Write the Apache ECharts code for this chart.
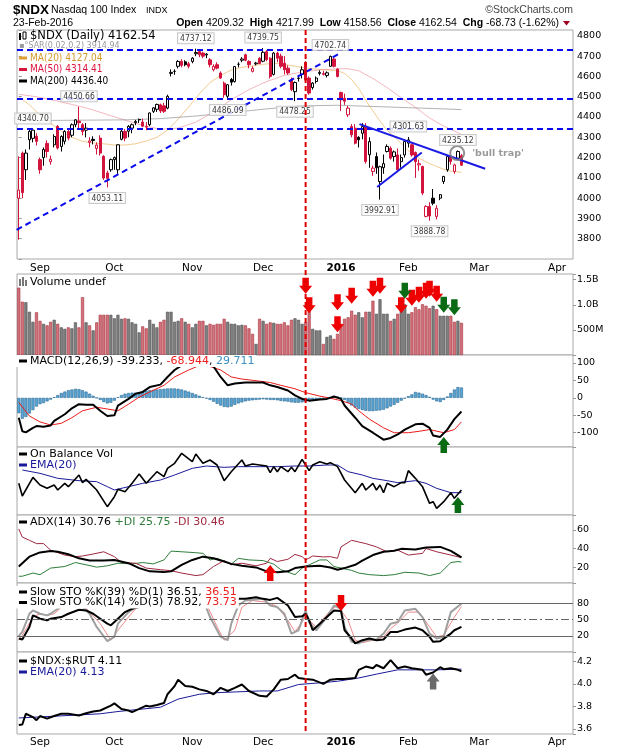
<!DOCTYPE html>
<html>
<head>
<meta charset="utf-8">
<title>$NDX Nasdaq 100 Index</title>
<script src="https://cdn.jsdelivr.net/npm/echarts@6/dist/echarts.min.js"></script>
<style>
  html, body { margin: 0; padding: 0; background: #fff; }
  #chart { width: 620px; height: 750px; }
</style>
</head>
<body>
<div id="chart"></div>
<script>
// ---------------- values ----------------
var slotCount = 157          // trading days on the axis (Aug 24 2015 .. early Apr 2016)
var monthTicks = [[6, 'Sep'], [27, 'Oct'], [49, 'Nov'], [69, 'Dec'], [91, '2016'], [110, 'Feb'], [130, 'Mar'], [152, 'Apr']]

// daily candles: [open, close, low, high]
var ohlc = [
  [4000, 4040, 3795, 4206], [4222, 4027, 4000, 4230], [4140, 4222, 4090, 4240], [4288, 4329, 4240, 4340], [4295, 4335, 4275, 4340.70],
  [4305, 4280, 4260, 4320], [4190, 4140, 4120, 4200], [4200, 4240, 4160, 4250], [4270, 4230, 4200, 4285], [4180, 4192, 4165, 4210],
  [4263, 4304, 4250, 4315], [4354, 4247, 4240, 4360], [4255, 4304, 4230, 4310], [4280, 4329, 4265, 4335], [4329, 4296, 4285, 4340],
  [4310, 4362, 4300, 4368], [4362, 4386, 4350, 4390], [4380, 4372, 4340, 4450.66], [4362, 4329, 4310, 4370], [4335, 4345, 4300, 4370],
  [4275, 4282, 4250, 4300], [4290, 4284, 4265, 4305], [4245, 4262, 4215, 4275], [4296, 4222, 4210, 4310], [4206, 4099, 4090, 4212],
  [4124, 4098, 4053.11, 4135], [4140, 4190, 4130, 4195], [4190, 4200, 4140, 4205], [4140, 4263, 4120, 4265], [4290, 4330, 4285, 4340],
  [4329, 4296, 4280, 4340], [4330, 4354, 4300, 4360], [4345, 4362, 4320, 4368], [4372, 4378, 4360, 4385], [4388, 4386, 4370, 4392],
  [4375, 4355, 4350, 4392], [4350, 4354, 4335, 4375], [4362, 4420, 4355, 4422], [4428, 4445, 4420, 4448], [4438, 4462, 4425, 4466],
  [4460, 4430, 4420, 4466], [4455, 4428, 4420, 4470], [4444, 4502, 4438, 4510], [4615, 4620, 4600, 4635], [4625, 4625, 4608, 4635],
  [4650, 4674, 4640, 4680], [4674, 4655, 4645, 4685], [4672, 4658, 4650, 4680], [4662, 4650, 4640, 4672], [4674, 4690, 4665, 4695],
  [4712, 4718, 4700, 4737.12], [4723, 4707, 4695, 4730], [4715, 4700, 4690, 4722], [4706, 4710, 4690, 4715], [4682, 4658, 4645, 4690],
  [4633, 4650, 4625, 4660], [4658, 4641, 4635, 4670], [4617, 4592, 4588, 4625], [4567, 4510, 4495, 4575], [4502, 4559, 4486.09, 4562],
  [4585, 4572, 4555, 4592], [4575, 4649, 4570, 4652], [4660, 4660, 4645, 4670], [4680, 4686, 4670, 4695], [4707, 4680, 4675, 4712],
  [4674, 4658, 4640, 4680], [4625, 4640, 4620, 4650], [4662, 4666, 4655, 4672], [4690, 4664, 4660, 4695], [4675, 4719, 4670, 4739.75],
  [4722, 4683, 4675, 4730], [4690, 4600, 4590, 4695], [4610, 4715, 4605, 4720], [4715, 4690, 4670, 4722], [4700, 4650, 4640, 4712],
  [4665, 4633, 4610, 4700], [4641, 4617, 4608, 4655], [4584, 4535, 4528, 4595], [4525, 4570, 4478.25, 4575], [4590, 4592, 4575, 4605],
  [4610, 4633, 4590, 4650], [4670, 4582, 4575, 4675], [4592, 4518, 4510, 4600], [4545, 4567, 4535, 4572], [4575, 4592, 4565, 4600],
  [4615, 4620, 4605, 4630], [4610, 4615, 4605, 4628], [4605, 4618, 4595, 4625], [4650, 4699, 4648, 4702.74], [4686, 4650, 4645, 4690],
  [4636, 4600, 4595, 4640], [4521, 4485, 4430, 4525], [4492, 4478, 4460, 4515], [4411, 4444, 4400, 4455], [4353, 4312, 4300, 4365],
  [4345, 4271, 4265, 4365], [4300, 4288, 4250, 4305], [4320, 4353, 4290, 4370], [4353, 4181, 4170, 4370], [4214, 4279, 4150, 4300],
  [4132, 4148, 4110, 4160], [4205, 4150, 4120, 4225], [4082, 4155, 3992.91, 4160], [4150, 4170, 4120, 4215], [4230, 4255, 4225, 4265],
  [4246, 4197, 4190, 4255], [4205, 4228, 4180, 4235], [4213, 4140, 4130, 4245], [4180, 4200, 4150, 4215], [4213, 4279, 4200, 4282],
  [4271, 4287, 4250, 4301.63], [4263, 4213, 4205, 4270], [4225, 4180, 4100, 4230], [4164, 4170, 4135, 4190], [4156, 4025, 4015, 4160],
  [3910, 3959, 3905, 3965], [3959, 3912, 3888.78, 3980], [4000, 3975, 3965, 4045], [3910, 3950, 3895, 3965], [4000, 4017, 3990, 4020],
  [4082, 4107, 4070, 4110], [4140, 4205, 4130, 4208], [4202, 4181, 4165, 4210], [4131, 4164, 4120, 4170], [4197, 4230, 4195, 4235.12],
  [4209.32, 4162.54, 4158.56, 4217.99]
]

// daily volume, billions of shares
var volume = [
  1.34, 1.06, 1.05, 0.86, 0.66, 0.85, 0.68, 0.62, 0.59, 0.66,
  0.70, 0.62, 0.55, 0.52, 0.55, 0.53, 0.65, 0.55, 1.15, 0.65,
  0.59, 0.49, 0.65, 0.80, 0.80, 0.80, 0.80, 0.73, 0.80, 0.72,
  0.73, 0.72, 0.65, 0.62, 0.45, 0.57, 0.53, 0.70, 0.62, 0.55,
  0.66, 0.70, 0.86, 0.86, 0.66, 0.68, 0.73, 0.66, 0.62, 0.55,
  0.62, 0.68, 0.68, 0.59, 0.62, 0.60, 0.62, 0.62, 0.72, 0.66,
  0.62, 0.62, 0.59, 0.60, 0.59, 0.53, 0.42, 0.22, 0.72, 0.68,
  0.62, 0.65, 0.64, 0.62, 0.62, 0.65, 0.59, 0.70, 0.73, 0.70,
  0.62, 0.65, 1.10, 0.52, 0.49, 0.49, 0.22, 0.36, 0.39, 0.32,
  0.42, 0.62, 0.72, 0.75, 0.88, 0.80, 0.85, 0.75, 0.86, 0.86,
  1.08, 0.82, 1.11, 0.82, 0.82, 0.68, 0.72, 0.82, 0.88, 1.01,
  0.82, 0.85, 0.95, 0.91, 1.01, 0.98, 0.93, 0.98, 0.91, 0.78,
  0.78, 0.78, 0.78, 0.66, 0.68, 0.64
]

// moving averages on the price panel, [day, value]
var ma20 = [[0, 4500], [3, 4460], [6, 4410], [9, 4370], [12, 4330], [15, 4300], [18, 4280], [21, 4272], [24, 4268], [27, 4262],
  [30, 4262], [33, 4268], [36, 4282], [39, 4300], [42, 4335], [45, 4390], [48, 4450], [51, 4515], [54, 4570], [57, 4605],
  [60, 4632], [63, 4645], [66, 4652], [69, 4660], [72, 4665], [75, 4660], [78, 4650], [81, 4642], [84, 4636], [87, 4632],
  [90, 4628], [92, 4615], [94, 4585], [96, 4540], [99, 4455], [102, 4380], [104, 4335], [107, 4287], [110, 4235], [113, 4197],
  [116, 4170], [118, 4156], [121, 4136], [125, 4127.04]]
var ma50 = [[0, 4512], [5, 4500], [10, 4482], [15, 4462], [20, 4440], [25, 4412], [30, 4385], [35, 4358], [40, 4340], [45, 4345],
  [50, 4375], [55, 4425], [60, 4485], [65, 4535], [70, 4575], [75, 4605], [80, 4622], [85, 4632], [90, 4638], [93, 4638],
  [96, 4628], [100, 4590], [104, 4545], [108, 4495], [112, 4448], [116, 4395], [120, 4355], [125, 4314.41]]
var ma200 = [[0, 4382], [15, 4384], [30, 4386], [40, 4392], [50, 4405], [60, 4422], [70, 4440], [80, 4455], [90, 4458],
  [100, 4452], [110, 4446], [120, 4440], [125, 4436.40]]

// MACD(12,26,9)
var macdLine = [[0, -57], [1, -96], [2, -99], [4, -86], [5, -81], [7, -83], [9, -79], [10, -66], [13, -47], [15, -30], [17, -18],
  [19, -20], [21, -20], [23, -37], [25, -52], [27, -50], [28, -22], [31, -3], [33, 12], [35, 17], [37, 31], [40, 38], [42, 60],
  [44, 80], [46, 93], [49, 108], [52, 112], [55, 90], [57, 60], [59, 36], [61, 41], [64, 44], [69, 44], [71, 36], [73, 31],
  [76, 21], [78, 7], [80, -3], [82, -8], [85, -5], [87, -3], [89, 4], [91, -3], [92, -22], [95, -57], [97, -81], [100, -100],
  [103, -120], [105, -115], [107, -105], [109, -91], [112, -76], [114, -74], [116, -86], [117, -108], [119, -112], [121, -91],
  [123, -61], [125, -39.233]]
var macdSignal = [[0, -13], [3, -52], [6, -69], [9, -78], [12, -73], [15, -57], [18, -37], [22, -27], [25, -32], [28, -37],
  [31, -18], [34, 2], [37, 17], [41, 36], [44, 60], [48, 80], [51, 93], [54, 90], [57, 80], [60, 60], [63, 54], [68, 48],
  [71, 44], [74, 36], [78, 26], [81, 15], [85, 5], [88, -1], [91, -8], [94, -18], [96, -37], [99, -61], [103, -86], [106, -100],
  [110, -100], [113, -96], [116, -91], [120, -100], [123, -91], [125, -68.944]]
var macdHist = [
  -44, -60, -55, -45, -35, -25, -18, -15, -10, -5,
  2, 8, 14, 18, 22, 24, 26, 25, 22, 18,
  12, 6, 0, -6, -12, -16, -14, -8, 2, 8,
  12, 14, 15, 15, 16, 18, 20, 22, 23, 24,
  25, 26, 27, 27, 27, 26, 24, 21, 18, 14,
  10, 6, 2, -2, -6, -11, -17, -22, -26, -27,
  -25, -20, -16, -13, -10, -8, -7, -6, -5, -4,
  -5, -6, -6, -7, -9, -10, -11, -13, -14, -14,
  -13, -11, -9, -7, -5, -4, -2, 0, 2, 4,
  4, 0, -6, -14, -22, -28, -32, -35, -37, -38,
  -38, -37, -36, -34, -30, -25, -20, -14, -8, -2,
  5, 10, 17, 15, 12, 8, 3, -5, -10, -12,
  -6, 4, 14, 24, 31, 29.711
]

// On Balance Volume (billions, relative) and its EMA(20)
var obv = [[0, 2.0], [1, -1.8], [4, 3.8], [6, 1.5], [8, 0.5], [10, 1.5], [11, 0], [13, 2.0], [14, 1.0], [17, 4.5], [18, 2.2],
  [19, 3.2], [22, 0], [25, -5.0], [27, -2.0], [28, 0.2], [30, -0.5], [32, 2.0], [34, 4.8], [36, 2.0], [39, 5.5], [41, 4.0],
  [42, 6.5], [44, 8.0], [46, 11.0], [49, 8.5], [50, 10.8], [52, 8.0], [54, 9.0], [56, 7.5], [58, 2.8], [60, 5.5], [63, 9.0],
  [64, 7.2], [66, 7.8], [68, 7.5], [70, 7.2], [71, 5.2], [72, 7.0], [73, 5.5], [74, 7.0], [76, 5.5], [77, 6.8], [78, 5.5],
  [80, 9.2], [81, 7.5], [82, 5.8], [83, 7.5], [85, 8.5], [87, 7.8], [88, 8.2], [90, 7.0], [92, 3.0], [95, -0.8], [97, 2.0],
  [98, 0], [100, 2.0], [101, 0], [102, 1.5], [103, -0.8], [104, 2.0], [106, 1.0], [108, 2.2], [109, 2.2], [110, 5.8],
  [112, 3.5], [114, 1.0], [116, -4.0], [117, -3.5], [118, -5.5], [120, -3.5], [122, -0.8], [123, -2.5], [125, 0]]
var obvEma = [[1, 6.0], [6, 5.0], [11, 3.5], [17, 2.8], [22, 2.5], [25, 1.0], [27, 0], [31, 1.0], [35, 2.0], [40, 3.0],
  [44, 4.5], [49, 6.5], [53, 7.2], [58, 6.8], [62, 7.0], [68, 7.0], [73, 7.0], [78, 7.2], [82, 7.2], [87, 7.5], [90, 7.5],
  [93, 5.5], [97, 4.5], [100, 3.5], [104, 2.8], [107, 2.2], [112, 2.8], [115, 2.0], [118, 0.5], [122, -0.8], [125, -0.8]]

// ADX(14), +DI, -DI
var adx = [[0, 21], [3, 31.5], [6, 36], [9, 37.4], [11, 36.7], [14, 34], [17, 29.7], [20, 27.3], [24, 27.3], [27, 28],
  [31, 24.5], [34, 19.3], [37, 15.8], [41, 15], [43, 15.8], [46, 22.8], [49, 28], [52, 31.5], [55, 29.7], [58, 26.3],
  [60, 23.8], [63, 21.7], [67, 20], [70, 15.8], [73, 14.8], [76, 15.8], [78, 19.3], [81, 21], [85, 21.7], [88, 20], [90, 17.6],
  [92, 19.3], [95, 22.8], [97, 27.3], [100, 33.2], [103, 36.7], [106, 37.7], [108, 39.8], [112, 39.1], [115, 41.2], [119, 41.9],
  [122, 37.7], [125, 30.76]]
var plusDI = [[0, 10.6], [1, 10.6], [4, 14], [6, 12.3], [9, 19.3], [13, 21], [16, 25.2], [19, 22.8], [22, 20.3], [25, 21.7],
  [28, 24.5], [32, 23.8], [35, 25.2], [38, 23.8], [41, 28], [43, 37.4], [46, 36.7], [50, 35.7], [52, 35], [54, 28], [56, 29.7],
  [60, 23.5], [62, 29.7], [65, 28], [69, 27.3], [72, 23.5], [74, 17.6], [78, 12.3], [80, 19.3], [82, 22.8], [85, 28], [87, 28],
  [89, 21], [91, 19.3], [94, 16.9], [96, 14], [99, 12.3], [103, 11.3], [106, 12.3], [109, 14.8], [113, 14], [116, 11.3],
  [119, 14], [122, 25.2], [124, 26.3], [125, 25.75]]
var minusDI = [[0, 61], [1, 52.4], [3, 48.9], [5, 45.4], [7, 45.4], [9, 38.4], [13, 33.2], [16, 31.5], [18, 32.2], [21, 34.3],
  [24, 36.7], [27, 31.5], [29, 25.2], [33, 24.5], [36, 19.3], [40, 17.6], [43, 16.5], [46, 14], [50, 11.3], [52, 12.3],
  [55, 21], [58, 27.3], [60, 22.8], [63, 24.5], [67, 21.7], [70, 24.5], [71, 29.7], [73, 26.3], [76, 28.7], [78, 33.9],
  [80, 31.5], [81, 28], [83, 32.2], [86, 31.2], [88, 31.5], [90, 29.7], [91, 41.9], [94, 48.9], [96, 47.1], [98, 45.4],
  [101, 41.9], [104, 36.7], [107, 38.4], [110, 33.2], [114, 35], [115, 40.2], [118, 36.7], [122, 33.2], [125, 30.46]]

// Slow stochastics
var stoK39 = [[0, 15.2], [1, 13.3], [3, 36.4], [4, 57.6], [6, 51.5], [8, 48.5], [9, 51.5], [12, 54.5], [14, 60.6], [17, 67.9],
  [19, 66.7], [21, 60.6], [23, 51.5], [25, 42.4], [26, 39.4], [28, 51.5], [30, 63.6], [32, 69.7], [34, 72.7], [37, 80], [40, 86],
  [44, 92], [48, 96], [52, 87.9], [54, 81.8], [57, 72.7], [59, 75.8], [62, 87.9], [64, 87.9], [67, 90.9], [69, 87.9], [71, 86],
  [73, 89.7], [76, 75.8], [78, 54.5], [80, 55.8], [81, 60.6], [82, 48.5], [83, 30.3], [85, 42.4], [87, 54.5], [89, 66.7],
  [91, 65.5], [92, 30.3], [94, 15.2], [95, 6.1], [97, 12.1], [99, 15.2], [101, 12.1], [103, 13.3], [105, 27.3], [107, 27.3],
  [109, 31.5], [112, 35.2], [114, 30.3], [116, 18.2], [117, 9.1], [119, 10.3], [122, 24.2], [123, 30.3], [125, 36.51]]
var stoK14 = [[0, 19.4], [1, 27.3], [3, 60.6], [4, 66.7], [6, 60.6], [8, 57.6], [9, 60.6], [11, 69.7], [13, 85], [15, 88],
  [17, 80], [19, 66.7], [20, 60.6], [22, 36.4], [25, 10.3], [27, 18.2], [28, 42.4], [31, 63.6], [33, 72.7], [35, 85], [38, 92],
  [42, 95], [46, 93], [50, 90], [52, 87.9], [54, 54.5], [57, 18.2], [59, 12.1], [60, 42.4], [62, 75.8], [64, 84.8], [69, 87.9],
  [71, 75.8], [73, 72.7], [75, 60.6], [77, 24.2], [79, 30.3], [81, 66.7], [82, 45], [84, 30.3], [87, 54.5], [89, 75.8],
  [91, 69.7], [92, 36.4], [94, 9.1], [96, 6.1], [98, 12.1], [101, 13.3], [103, 24.2], [105, 42.4], [107, 45.5], [109, 66.7],
  [112, 69.7], [114, 54.5], [116, 24.2], [118, 15.2], [120, 18.2], [122, 63.6], [125, 78.92]]
var stoD3 = [[0, 12], [1, 21], [4, 54.5], [6, 60.6], [8, 57.6], [10, 60.6], [12, 72], [14, 80], [17, 85], [20, 63.6], [23, 42.4],
  [26, 12.1], [28, 30.3], [31, 54.5], [33, 69.7], [36, 80], [40, 90], [45, 94], [50, 92], [53, 78.8], [56, 36.4], [58, 12.1],
  [61, 30.3], [63, 72.7], [66, 84.8], [70, 81.8], [73, 73.9], [76, 48.5], [78, 27.3], [81, 54.5], [84, 36.4], [88, 66.7],
  [90, 75.8], [93, 48.5], [95, 12.1], [97, 7.3], [100, 12.1], [103, 18.2], [105, 33.3], [107, 43.6], [110, 63.6], [113, 63.6],
  [116, 36.4], [118, 18.2], [120, 21.2], [123, 54.5], [125, 73.73]]
var stoLevels = [80, 50, 20]

// $NDX:$RUT ratio and EMA(20)
var ratio = [[0, 3.635], [1, 3.64], [2, 3.735], [4, 3.706], [5, 3.678], [6, 3.715], [8, 3.692], [10, 3.715], [12, 3.735],
  [14, 3.735], [17, 3.72], [19, 3.74], [21, 3.755], [23, 3.764], [26, 3.807], [27, 3.827], [29, 3.778], [31, 3.764], [32, 3.75],
  [34, 3.778], [36, 3.807], [37, 3.80], [39, 3.813], [41, 3.83], [42, 3.908], [44, 3.98], [45, 4.037], [47, 3.98], [49, 3.974],
  [51, 3.951], [53, 3.937], [55, 3.908], [57, 3.965], [59, 3.937], [61, 3.965], [63, 3.994], [65, 3.937], [68, 3.894],
  [70, 3.888], [72, 3.951], [74, 4.037], [76, 4.043], [78, 4.081], [79, 4.052], [81, 4.043], [83, 4.037], [86, 4.0], [88, 4.037],
  [90, 4.043], [92, 4.043], [95, 4.052], [96, 4.124], [98, 4.153], [100, 4.138], [101, 4.167], [103, 4.138], [105, 4.21],
  [107, 4.138], [109, 4.153], [111, 4.138], [114, 4.124], [115, 4.081], [117, 4.101], [119, 4.147], [120, 4.13], [122, 4.138],
  [124, 4.124], [125, 4.11]]
var ratioEma = [[0, 3.698], [11, 3.715], [23, 3.735], [28, 3.755], [40, 3.793], [45, 3.865], [51, 3.908], [56, 3.922],
  [68, 3.937], [73, 3.937], [79, 3.994], [85, 4.009], [90, 4.023], [96, 4.052], [101, 4.086], [107, 4.124], [112, 4.124],
  [118, 4.124], [125, 4.13]]

// annotations drawn on the chart
var priceLevels = [4730, 4492, 4340]
var trendDashed = [[-0.6, 3844], [90.4, 4711]]
var wedgeUpper = [[96.2, 4365], [131.7, 4145]]
var wedgeLower = [[101.2, 4055], [113.8, 4225]]
var bullTrap = [123.8, 4222]
var eventDay = 81
var priceLabels = [[4, 4340.70, 'top'], [17, 4450.66, 'top'], [25, 4053.11, 'bottom'], [50, 4737.12, 'top'],
  [59, 4486.09, 'bottom'], [69, 4739.75, 'top'], [78, 4478.25, 'bottom'], [88, 4702.74, 'top'], [110, 4301.63, 'top'],
  [102, 3992.91, 'bottom'], [116, 3888.78, 'bottom'], [124, 4235.12, 'top']]
var volArrows = [[81, 1.38, 'r'], [82, 0.99, 'r'], [90, 1.05, 'r'], [90, 0.61, 'r'], [94, 1.18, 'r'], [100, 1.32, 'r'],
  [102, 1.38, 'r'], [108, 0.99, 'r'], [111, 1.14, 'r'], [113, 1.2, 'r'], [115, 1.28, 'r'], [116, 1.32, 'r'], [118, 1.22, 'r'],
  [109, 1.28, 'g'], [120, 1.0, 'g'], [123, 0.95, 'g']]

// ---------------- chart ----------------
var RED = '#d3143c'
var FONT = 'DejaVu Sans'
var COND = 'DejaVu Sans Condensed'
var ARIAL = 'Liberation Sans'
var ARROW_DOWN = 'path://M4,0 L12,0 L12,9 L16,9 L8,18 L0,9 L4,9 Z'
var ARROW_UP = 'path://M8,0 L16,9 L12,9 L12,18 L4,18 L4,9 L0,9 Z'
var arrowColors = {r: '#ee0000', g: '#0b6b14', k: '#6a6a6a'}

var panels = [
  {top: 30, height: 229, min: 3700, max: 4829},     // price
  {top: 274, height: 81, min: 0, max: 1.612},       // volume
  {top: 355, height: 92, min: -141, max: 123},      // MACD
  {top: 447, height: 68, min: -7.5, max: 12.9},     // OBV
  {top: 515, height: 68, min: 3.4, max: 75.9},      // ADX
  {top: 583, height: 69, min: -9.6, max: 117},      // STO
  {top: 652, height: 82, min: 3.556, max: 4.282}    // ratio
]
var plotLeft = 17, plotRight = 47

var chart = echarts.init(document.getElementById('chart'), null, {renderer: 'canvas'})

var categories = []
for (var s = 0; s < slotCount; s++) categories.push(String(s))
var monthAt = {}
monthTicks.forEach(function (t) { monthAt[t[0]] = t[1] })

function isDown (i) {
  return i === 0 ? true : ohlc[i][1] < ohlc[i - 1][1]
}

var candleData = ohlc.map(function (d, i) {
  var edge = isDown(i) ? RED : '#000'
  var fill = d[1] > d[0] ? '#fff' : edge
  return {value: d, itemStyle: {color: fill, color0: fill, borderColor: edge, borderColor0: edge}}
})

var volumeData = volume.map(function (v, i) {
  var down = isDown(i)
  return {value: v, itemStyle: {color: down ? '#d2737b' : '#808080', borderColor: down ? '#a8303e' : '#4a4a4a', borderWidth: 0.6}}
})

function arrows (list, dir) {
  return {
    silent: true, animation: false, label: {show: false},
    data: list.map(function (a) {
      return {coord: [a[0], a[1]], symbol: dir === 'up' ? ARROW_UP : ARROW_DOWN, symbolSize: [13, 16],
        itemStyle: {color: arrowColors[a[2]]}}
    })
  }
}

function line (name, g, data, color, width, extra) {
  var o = {type: 'line', name: name, xAxisIndex: g, yAxisIndex: g, data: data, symbol: 'none', silent: true,
    animation: false, lineStyle: {color: color, width: width}, z: 3}
  for (var k in extra) o[k] = extra[k]
  return o
}

var grids = panels.map(function (p) {
  return {left: plotLeft, right: plotRight, top: p.top, height: p.height, show: true,
    borderColor: '#a8a8a8', borderWidth: 1, backgroundColor: '#fff', containLabel: false}
})

var xAxes = panels.map(function (p, g) {
  var showLabels = g === 0 || g === 6
  return {
    type: 'category', gridIndex: g, data: categories, boundaryGap: true,
    axisLine: {show: false}, axisTick: {show: false}, splitLine: {show: false},
    axisLabel: {
      show: showLabels, margin: g === 0 ? 4 : 3, fontFamily: FONT, fontSize: 10.5, color: '#000',
      interval: function (idx) { return monthAt[idx] !== undefined },
      formatter: function (val, idx) {
        var t = monthAt[idx] || ''
        return t === '2016' ? '{b|2016}' : t
      },
      rich: {b: {fontWeight: 'bold', fontFamily: FONT, fontSize: 10.5, color: '#000'}}
    }
  }
})
// hidden value axis for annotations that sit between days
xAxes.push({type: 'value', gridIndex: 0, min: -0.5, max: slotCount - 0.5, show: false})

var labelFormatters = [
  function (v) { return (v >= 3800 && v <= 4800 && v % 100 === 0) ? String(v) : '' },
  function (v) { return v === 0.5 ? '500M' : v === 1 ? '1.0B' : v === 1.5 ? '1.5B' : '' },
  function (v) { return (Math.abs(v) <= 100 && v % 50 === 0) ? String(v) : '' },
  function () { return '' },
  function (v) { return (v === 20 || v === 40 || v === 60) ? String(v) : '' },
  function () { return '' },
  function (v) {
    var k = Math.round(v * 5)
    return (Math.abs(v * 5 - k) < 1e-6 && v >= 3.6 && v <= 4.2) ? (k / 5).toFixed(1) : ''
  }
]
var yAxes = panels.map(function (p, g) {
  var ax = {
    type: 'value', gridIndex: g, position: 'right', min: p.min, max: p.max, scale: true,
    axisLine: {show: false}, splitLine: {show: false},
    axisTick: {show: g !== 3 && g !== 5, length: 3, lineStyle: {color: '#999'}},
    axisLabel: {show: g !== 3 && g !== 5, fontFamily: FONT, fontSize: 9.5, color: '#000', margin: 4,
      formatter: labelFormatters[g]}
  }
  if (g === 0) ax.interval = 100
  if (g === 1) ax.interval = 0.5
  if (g === 2) ax.splitNumber = 5
  if (g === 4) ax.splitNumber = 4
  if (g === 6) ax.splitNumber = 4
  return ax
})

var series = [
  // price panel
  line('MA(20)', 0, ma20, '#eba84a', 1, {lineStyle: {color: '#eba84a', width: 1, opacity: 0.6}, z: 1}),
  line('MA(50)', 0, ma50, '#e8707e', 1, {lineStyle: {color: '#e8707e', width: 1, opacity: 0.5}, z: 1}),
  line('MA(200)', 0, ma200, '#8a8a8a', 1, {lineStyle: {color: '#8a8a8a', width: 1, opacity: 0.65}, z: 1}),
  {
    type: 'candlestick', name: '$NDX', xAxisIndex: 0, yAxisIndex: 0, data: candleData, barWidth: '80%',
    silent: true, animation: false, z: 2, itemStyle: {borderWidth: 1}
  },
  {
    type: 'line', name: 'levels', xAxisIndex: 7, yAxisIndex: 0, data: [], silent: true, z: 5,
    markLine: {silent: true, symbol: 'none', animation: false, label: {show: false},
      lineStyle: {color: '#0a0aee', width: 2, type: [6, 4]},
      data: priceLevels.map(function (v) { return {yAxis: v} })}
  },
  line('trend', 7, trendDashed, '#0a0aee', 2, {yAxisIndex: 0, lineStyle: {color: '#0a0aee', width: 2, type: [6, 4]}, z: 5}),
  line('wedge upper', 7, wedgeUpper, '#1a1ae6', 2, {yAxisIndex: 0, z: 5}),
  line('wedge lower', 7, wedgeLower, '#1a1ae6', 2, {yAxisIndex: 0, z: 5}),
  {
    type: 'scatter', name: 'bull trap', xAxisIndex: 7, yAxisIndex: 0, data: [bullTrap], symbol: 'circle', symbolSize: 14,
    silent: true, animation: false, z: 6,
    itemStyle: {color: 'rgba(0,0,0,0)', borderColor: '#777', borderWidth: 2},
    label: {show: true, position: 'right', distance: 7, formatter: "'bull trap'", color: '#7f7f7f',
      fontFamily: FONT, fontWeight: 'bold', fontSize: 9.5}
  },
  {
    type: 'scatter', name: 'price labels', xAxisIndex: 0, yAxisIndex: 0, symbolSize: 1, silent: true, animation: false, z: 7,
    itemStyle: {color: 'rgba(0,0,0,0)'},
    data: priceLabels.map(function (p) { return {value: [p[0], p[1]], label: {position: p[2]}} }),
    label: {show: true, distance: 5, formatter: function (p) { return p.value[1].toFixed(2) },
      backgroundColor: '#fff', borderColor: '#bdbdbd', borderWidth: 1, padding: [1, 2, 0, 2],
      fontFamily: COND, fontSize: 8.5, color: '#000'}
  },
  // volume
  {
    type: 'bar', name: 'Volume', xAxisIndex: 1, yAxisIndex: 1, data: volumeData, barWidth: '86%', silent: true,
    animation: false, markPoint: arrows(volArrows, 'down')
  },
  // MACD
  {
    type: 'bar', name: 'MACD hist', xAxisIndex: 2, yAxisIndex: 2, data: macdHist, barWidth: '86%', silent: true,
    animation: false, itemStyle: {color: '#58a6d6', borderColor: '#2c6a96', borderWidth: 0.6}
  },
  line('signal', 2, macdSignal, '#ee1c1c', 1),
  line('MACD', 2, macdLine, '#000', 2, {z: 4, markPoint: arrows([[120, -135, 'g']], 'up')}),
  // OBV
  line('OBV EMA', 3, obvEma, '#1a1a9a', 1),
  line('OBV', 3, obv, '#000', 1.6, {z: 4, markPoint: arrows([[124, -4.5, 'g']], 'up')}),
  // ADX
  line('+DI', 4, plusDI, '#2e7d3a', 1),
  line('-DI', 4, minusDI, '#a0283f', 1),
  line('ADX', 4, adx, '#000', 2, {z: 4, markPoint: arrows([[71, 14, 'r']], 'up')}),
  // STO
  line('%D(3)', 5, stoD3, '#f08a8a', 1, {
    markLine: {silent: true, symbol: 'none', animation: false,
      lineStyle: {color: '#666', width: 1, type: 'solid'},
      label: {show: true, position: 'end', distance: 4, formatter: '{c}', fontFamily: FONT, fontSize: 9.5, color: '#000'},
      data: stoLevels.map(function (v) {
        return v === 50 ? {yAxis: v, lineStyle: {type: [8, 3, 2, 3]}} : {yAxis: v}
      })}
  }),
  line('%K(14)', 5, stoK14, '#a0a0a0', 2),
  line('%K(39)', 5, stoK39, '#000', 2, {z: 4, markPoint: arrows([[91, 80.3, 'r']], 'down')}),
  // ratio
  line('ratio EMA', 6, ratioEma, '#1a1a9a', 1),
  line('$NDX:$RUT', 6, ratio, '#000', 2, {z: 4, markPoint: arrows([[117, 4.02, 'k']], 'up')})
]

chart.setOption({
  animation: false,
  backgroundColor: '#fff',
  textStyle: {fontFamily: FONT},
  grid: grids,
  xAxis: xAxes,
  yAxis: yAxes,
  series: series
})

// ---------------- texts, legends and the event line ----------------
var measure = document.createElement('canvas').getContext('2d')
var graphics = []

function widthOf (parts) {
  var w = 0
  parts.forEach(function (p) { measure.font = p[2]; w += measure.measureText(p[0]).width })
  return w
}
function run (x, y, parts, bg) {
  var x0 = x
  var items = []
  parts.forEach(function (p) {
    items.push({type: 'text', x: x, y: y, silent: true, z: 101,
      style: {text: p[0], fill: p[1], font: p[2], textAlign: 'left', textVerticalAlign: 'middle',
        align: 'left', verticalAlign: 'middle'}})
    measure.font = p[2]
    x += measure.measureText(p[0]).width
  })
  if (bg) {
    graphics.push({type: 'rect', silent: true, z: 100, shape: {x: x0 - 14, y: y - 6, width: x - x0 + 16, height: 12},
      style: {fill: '#fff'}})
  }
  graphics.push.apply(graphics, items)
  return x
}
function marker (y, color) {
  graphics.push({type: 'rect', silent: true, z: 102, shape: {x: 19, y: y - 1.5, width: 8, height: 3}, style: {fill: color}})
}

// header
run(13, 10.5, [['$NDX', '#000', 'bold 13.5px ' + ARIAL]])
run(51, 10.5, [['Nasdaq 100 Index', '#000', '10.5px ' + ARIAL]])
run(146, 10.5, [['INDX', '#000', '9px ' + ARIAL]])
graphics.push({type: 'text', x: 573, y: 10.5, silent: true, z: 101,
  style: {text: '\u00a9StockCharts.com', fill: '#444', font: '10.5px ' + ARIAL, textAlign: 'right', textVerticalAlign: 'middle', align: 'right', verticalAlign: 'middle'}})
run(13, 23.5, [['23-Feb-2016', '#000', '10.5px ' + ARIAL]])
var hb = 'bold 10.5px ' + ARIAL, hn = '10.5px ' + ARIAL
var quote = [['Open', '#000', hb], [' 4209.32  ', '#000', hn], ['High', '#000', hb], [' 4217.99  ', '#000', hn],
  ['Low', '#000', hb], [' 4158.56  ', '#000', hn], ['Close', '#000', hb], [' 4162.54  ', '#000', hn],
  ['Chg', '#000', hb], [' -68.73 (-1.62%)', '#000', hn]]
var hx = run(559 - widthOf(quote), 23.5, quote)
graphics.push({type: 'polygon', silent: true, z: 101, shape: {points: [[hx + 4, 21], [hx + 11, 21], [hx + 7.5, 25.5]]}, style: {fill: '#a00020'}})

// price legend
graphics.push({type: 'rect', silent: true, z: 102, shape: {x: 19, y: 33, width: 2, height: 7}, style: {fill: '#000'}})
graphics.push({type: 'rect', silent: true, z: 102, shape: {x: 23, y: 32, width: 3, height: 7}, style: {fill: '#fff', stroke: '#000', lineWidth: 1}})
run(30, 36.5, [['$NDX (Daily) 4162.54', '#000', '11.5px ' + FONT]])
graphics.push({type: 'text', x: 19, y: 46, silent: true, z: 101,
  style: {text: '\u25aa\u00b0SAR(0.02,0.2) 3914.94', fill: '#9a9a9a', font: '8px ' + FONT, textVerticalAlign: 'middle', verticalAlign: 'middle'}})
marker(58, '#e0a030'); run(30, 58, [['MA(20) 4127.04', '#d49a2a', '10px ' + COND]])
marker(69.5, '#dc143c'); run(30, 69.5, [['MA(50) 4314.41', '#dc143c', '10px ' + COND]])
marker(81, '#000'); run(30, 81, [['MA(200) 4436.40', '#000', '10px ' + COND]])

// lower panel legends
var LF = '11px ' + FONT
graphics.push({type: 'rect', silent: true, z: 102, shape: {x: 19, y: 279, width: 2, height: 7}, style: {fill: '#777'}})
graphics.push({type: 'rect', silent: true, z: 102, shape: {x: 22, y: 277, width: 2, height: 9}, style: {fill: '#777'}})
graphics.push({type: 'rect', silent: true, z: 102, shape: {x: 25, y: 280, width: 2, height: 6}, style: {fill: '#777'}})
run(30, 282, [['Volume undef', '#000', LF]])
run(30, 361, [['MACD(12,26,9) -39.233,', '#000', LF], [' -68.944', '#ee1c1c', LF], [',', '#000', LF], [' 29.711', '#3d8fc4', LF]], true)
marker(361, '#000')
marker(454, '#000'); run(30, 454, [['On Balance Vol', '#000', LF]])
marker(465, '#1a1a9a'); run(30, 465, [['EMA(20)', '#1a1a9a', LF]])
marker(522, '#000'); run(30, 522, [['ADX(14) 30.76 ', '#000', LF], ['+DI 25.75 ', '#2e7d3a', LF], ['-DI 30.46', '#a0283f', LF]])
run(30, 592, [['Slow STO %K(39) %D(1) 36.51,', '#000', LF], [' 36.51', '#ee1c1c', LF]], true)
run(30, 602.5, [['Slow STO %K(14) %D(3) 78.92,', '#000', LF], [' 73.73', '#ee1c1c', LF]], true)
marker(592, '#000'); marker(602.5, '#000')
marker(661, '#000'); run(30, 661, [['$NDX:$RUT 4.11', '#000', LF]])
marker(672, '#1a1a9a'); run(30, 672, [['EMA(20) 4.13', '#1a1a9a', LF]])

// event line through every panel
var ex = chart.convertToPixel({xAxisIndex: 7}, eventDay)
graphics.push({type: 'line', silent: true, z: 99,
  shape: {x1: ex, y1: panels[0].top, x2: ex, y2: panels[6].top + panels[6].height},
  style: {stroke: '#e00000', lineWidth: 2, lineDash: [5, 3]}})

chart.setOption({graphic: {elements: graphics}})
</script>
</body>
</html>
